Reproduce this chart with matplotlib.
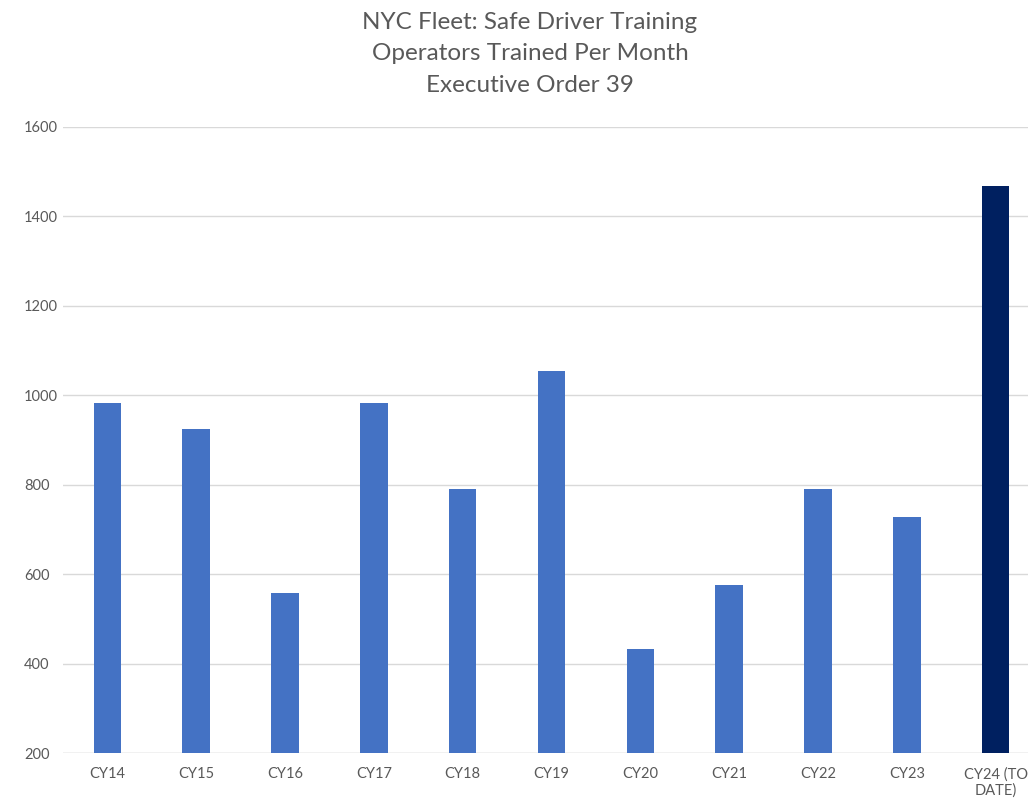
import matplotlib
matplotlib.use("Agg")
import matplotlib.pyplot as plt

categories = ["CY14", "CY15", "CY16", "CY17", "CY18", "CY19", "CY20", "CY21", "CY22", "CY23", "CY24 (TO\nDATE)"]
values = [982, 924, 558, 982, 790, 1054, 432, 576, 790, 728, 1468]
colors = ["#4472C4"] * 10 + ["#002060"]

plt.rcParams['font.family'] = ['Lato', 'DejaVu Sans']

fig = plt.figure(figsize=(10.28, 8.05), dpi=100)
ax = fig.add_axes([63/1028, (805-753)/805, (1040-63)/1028, (753-127)/805])

x = range(len(categories))
ax.bar(x, [v - 200 for v in values], bottom=200, width=0.31, color=colors, zorder=3)
ax.set_xlim(-0.5, len(categories) - 0.5)
ax.set_ylim(200, 1600)
ax.set_yticks(range(200, 1601, 200))
ax.set_xticks(list(x))
ax.set_xticklabels(categories)
ax.tick_params(axis='both', length=0, colors="#595959", labelsize=10.5)
ax.tick_params(axis='x', pad=10)
ax.tick_params(axis='y', pad=28)
for lbl in ax.get_yticklabels():
    lbl.set_horizontalalignment('left')
ax.grid(axis='y', color="#D9D9D9", linewidth=1, zorder=0)
for s in ax.spines.values():
    s.set_visible(False)
ax.axhline(200, color="#D9D9D9", linewidth=1, zorder=1)

fig.text(530/1028, 1 - 54/805, "NYC Fleet: Safe Driver Training\nOperators Trained Per Month\nExecutive Order 39",
         ha='center', va='center', fontsize=17.5, color="#595959", linespacing=1.6)

fig.savefig("out.png", dpi=100, facecolor="white")
